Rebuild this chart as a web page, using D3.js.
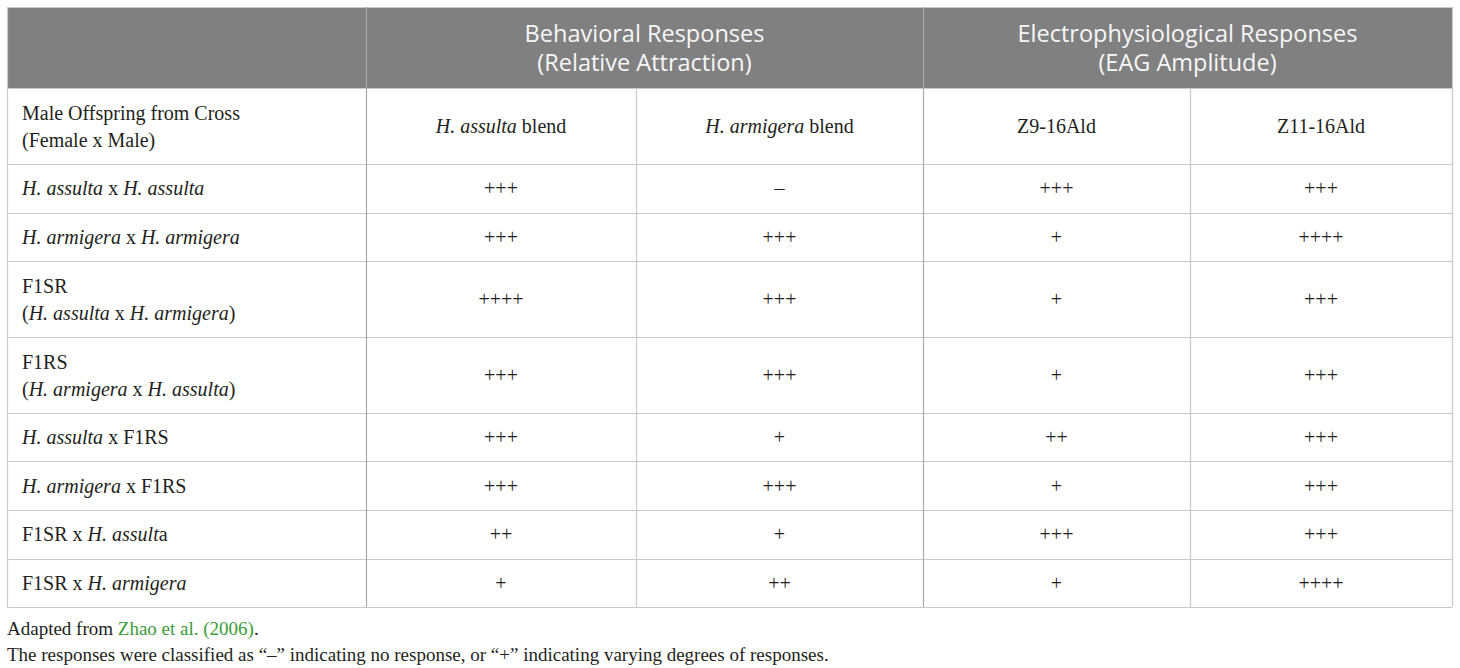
<!DOCTYPE html>
<html>
<head>
<meta charset="utf-8">
<script src="https://cdn.jsdelivr.net/npm/d3@7"></script>
<style>
  body { margin: 0; background: #fff; }
  svg { display: block; }
</style>
</head>
<body>
<svg id="chart" width="1460" height="668"></svg>
<script>
// column group headers (top grey band)
const groupHeaders = [
  ["Behavioral Responses", "(Relative Attraction)"],
  ["Electrophysiological Responses", "(EAG Amplitude)"]
];

// second header row, one entry per column, each line is a list of [text, italic]
const columnHeads = [
  [[["Male Offspring from Cross", false]], [["(Female x Male)", false]]],
  [[["H. assulta", true], [" blend", false]]],
  [[["H. armigera", true], [" blend", false]]],
  [[["Z9-16Ald", false]]],
  [[["Z11-16Ald", false]]]
];

// row labels (crosses)
const crosses = [
  [[["H. assulta", true], [" x ", false], ["H. assulta", true]]],
  [[["H. armigera", true], [" x ", false], ["H. armigera", true]]],
  [[["F1SR", false]], [["(", false], ["H. assulta", true], [" x ", false], ["H. armigera", true], [")", false]]],
  [[["F1RS", false]], [["(", false], ["H. armigera", true], [" x ", false], ["H. assulta", true], [")", false]]],
  [[["H. assulta", true], [" x F1RS", false]]],
  [[["H. armigera", true], [" x F1RS", false]]],
  [[["F1SR x ", false], ["H. assult", true], ["a", false]]],
  [[["F1SR x ", false], ["H. armigera", true]]]
];

// responses
const behavAssulta  = ["+++", "+++", "++++", "+++", "+++", "+++", "++", "+"];
const behavArmigera = ["\u2013", "+++", "+++", "+++", "+", "+++", "+", "++"];
const eagZ9         = ["+++", "+", "+", "+", "++", "+", "+++", "+"];
const eagZ11        = ["+++", "++++", "+++", "+++", "+++", "+++", "+++", "++++"];

const notes = [
  [["Adapted from ", false], ["Zhao et al. (2006)", "link"], [".", false]],
  [["The responses were classified as \u201c\u2013\u201d indicating no response, or \u201c+\u201d indicating varying degrees of responses.", false]]
];

const serif = "'Liberation Serif', 'Times New Roman', serif";
const sans = "'Open Sans', 'Noto Sans', sans-serif";
const gridColor = "#c9c9c9";
const textColor = "#231f20";

const svg = d3.select("#chart");

// columns: piecewise scale from column edge index to pixel
const x = d3.scaleLinear().domain([0, 1, 2, 3, 4, 5]).range([7, 366, 636, 923, 1190, 1452]);

// rows: header band, sub header, then data rows (two-line rows are taller)
const lineH = 27;
const rowHeights = [81, 76].concat(crosses.map(c => c.length > 1 ? 76 : 48.5));
const edges = [0].concat(Array.from(d3.cumsum(rowHeights)));
const y = d3.scaleLinear().domain([0, d3.max(edges)]).range([7, 7 + d3.max(edges)]);
const rowTop = i => y(edges[i]);
const rowMid = i => (y(edges[i]) + y(edges[i + 1])) / 2;

// grey header band
svg.append("rect")
  .attr("x", x(0)).attr("y", rowTop(0))
  .attr("width", x(5) - x(0)).attr("height", rowTop(1) - rowTop(0))
  .attr("fill", "#808080");

// horizontal grid lines
svg.append("g").selectAll("line")
  .data(edges)
  .join("line")
  .attr("x1", x(0)).attr("x2", x(5))
  .attr("y1", d => Math.round(y(d)) + 0.5).attr("y2", d => Math.round(y(d)) + 0.5)
  .attr("stroke", gridColor).attr("stroke-width", 1.2);

// vertical grid lines (inner lines at 2 and 4 skip the grey band)
const vlines = [0, 1, 2, 3, 4, 5];
svg.append("g").selectAll("line")
  .data(vlines)
  .join("line")
  .attr("x1", d => Math.round(x(d)) + 0.5).attr("x2", d => Math.round(x(d)) + 0.5)
  .attr("y1", d => (d === 2 || d === 4) ? rowTop(1) : rowTop(0))
  .attr("y2", rowTop(edges.length - 1))
  .attr("stroke", d => (d === 1 || d === 3) ? "#a9a9a9" : gridColor)
  .attr("stroke-width", 1.2);

// group header text
const groupSpans = [[1, 3], [3, 5]];
groupHeaders.forEach((lines, g) => {
  const cx = (x(groupSpans[g][0]) + x(groupSpans[g][1])) / 2;
  svg.append("text")
    .attr("x", cx).attr("y", 42)
    .attr("text-anchor", "middle")
    .style("font-family", sans).style("font-size", "23.5px").attr("fill", "#f7f7f7")
    .selectAll("tspan")
    .data(lines)
    .join("tspan")
    .attr("x", cx)
    .attr("dy", (d, i) => i === 0 ? 0 : 28.5)
    .text(d => d);
});

// writes rich text lines into a cell
function cellText(lines, cx, cy, anchor) {
  const n = lines.length;
  lines.forEach((segs, li) => {
    const base = cy + 7 + (li - (n - 1) / 2) * lineH;
    const t = svg.append("text")
      .attr("x", cx).attr("y", base)
      .attr("text-anchor", anchor)
      .style("font-family", serif).style("font-size", "20px")
      .attr("fill", textColor);
    t.selectAll("tspan")
      .data(segs)
      .join("tspan")
      .style("font-style", d => d[1] === true ? "italic" : "normal")
      .attr("fill", d => d[1] === "link" ? "#3a9b3a" : textColor)
      .attr("xml:space", "preserve")
      .text(d => d[0]);
  });
}

// second header row
columnHeads.forEach((lines, c) => {
  if (c === 0) cellText(lines, x(0) + 15, rowMid(1), "start");
  else cellText(lines, (x(c) + x(c + 1)) / 2, rowMid(1), "middle");
});

// data rows
const columns = [behavAssulta, behavArmigera, eagZ9, eagZ11];
crosses.forEach((lines, r) => {
  const ri = r + 2;
  cellText(lines, x(0) + 15, rowMid(ri), "start");
  columns.forEach((col, c) => {
    cellText([[[col[r], false]]], (x(c + 1) + x(c + 2)) / 2, rowMid(ri), "middle");
  });
});

// footnotes
notes.forEach((segs, i) => {
  const t = svg.append("text")
    .attr("x", x(0)).attr("y", 635 + i * 26)
    .style("font-family", serif).style("font-size", "19px")
    .attr("fill", textColor)
    .attr("xml:space", "preserve");
  t.selectAll("tspan")
    .data(segs)
    .join("tspan")
    .attr("fill", d => d[1] === "link" ? "#3a9b3a" : textColor)
    .text(d => d[0]);
});
</script>
</body>
</html>
